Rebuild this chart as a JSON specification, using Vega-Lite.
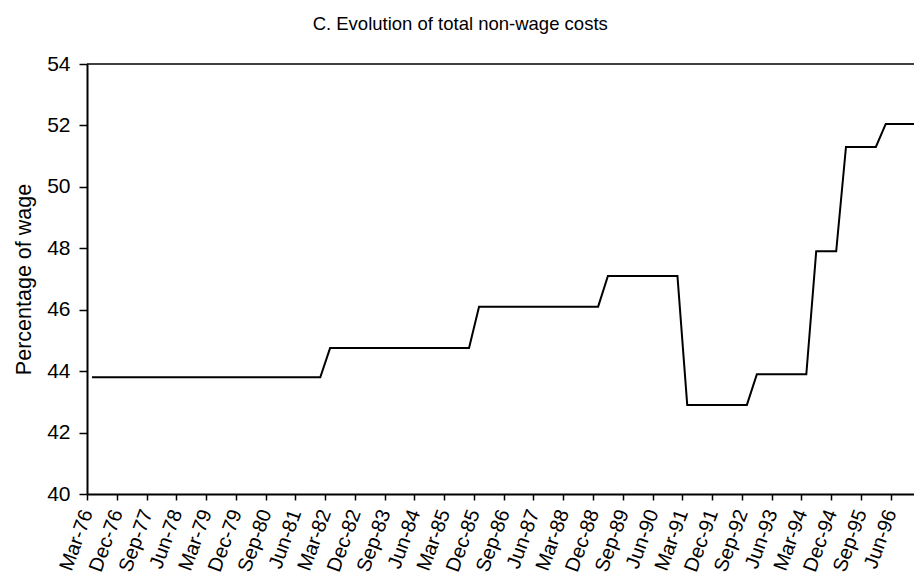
{
  "$schema": "https://vega.github.io/schema/vega-lite/v6.json",
  "width": 827,
  "height": 430,
  "autosize": {"type": "none"},
  "padding": {"left": 87, "top": 64, "right": 0, "bottom": 82},
  "background": "white",
  "title": {
    "text": "C. Evolution of total non-wage costs",
    "fontSize": 18.5,
    "font": "Liberation Sans",
    "fontWeight": "normal",
    "color": "black",
    "anchor": "middle",
    "frame": "bounds",
    "baseline": "alphabetic",
    "offset": 5,
    "dx": -4
  },
  "config": {
    "view": {"stroke": null},
    "font": "Liberation Sans"
  },
  "layer": [
    {
      "data": {"values": [{"top": 54}]},
      "mark": {"type": "rule", "color": "black", "strokeWidth": 1.5},
      "encoding": {"y": {"field": "top", "type": "quantitative"}}
    },
    {
      "data": {
        "values": [
          {"quarter": "1976-04-16", "pct": 43.8},
          {"quarter": "1976-07-16", "pct": 43.8},
          {"quarter": "1976-10-16", "pct": 43.8},
          {"quarter": "1977-01-16", "pct": 43.8},
          {"quarter": "1977-04-16", "pct": 43.8},
          {"quarter": "1977-07-16", "pct": 43.8},
          {"quarter": "1977-10-16", "pct": 43.8},
          {"quarter": "1978-01-16", "pct": 43.8},
          {"quarter": "1978-04-16", "pct": 43.8},
          {"quarter": "1978-07-16", "pct": 43.8},
          {"quarter": "1978-10-16", "pct": 43.8},
          {"quarter": "1979-01-16", "pct": 43.8},
          {"quarter": "1979-04-16", "pct": 43.8},
          {"quarter": "1979-07-16", "pct": 43.8},
          {"quarter": "1979-10-16", "pct": 43.8},
          {"quarter": "1980-01-16", "pct": 43.8},
          {"quarter": "1980-04-16", "pct": 43.8},
          {"quarter": "1980-07-16", "pct": 43.8},
          {"quarter": "1980-10-16", "pct": 43.8},
          {"quarter": "1981-01-16", "pct": 43.8},
          {"quarter": "1981-04-16", "pct": 43.8},
          {"quarter": "1981-07-16", "pct": 43.8},
          {"quarter": "1981-10-16", "pct": 43.8},
          {"quarter": "1982-01-16", "pct": 43.8},
          {"quarter": "1982-04-16", "pct": 44.75},
          {"quarter": "1982-07-16", "pct": 44.75},
          {"quarter": "1982-10-16", "pct": 44.75},
          {"quarter": "1983-01-16", "pct": 44.75},
          {"quarter": "1983-04-16", "pct": 44.75},
          {"quarter": "1983-07-16", "pct": 44.75},
          {"quarter": "1983-10-16", "pct": 44.75},
          {"quarter": "1984-01-16", "pct": 44.75},
          {"quarter": "1984-04-16", "pct": 44.75},
          {"quarter": "1984-07-16", "pct": 44.75},
          {"quarter": "1984-10-16", "pct": 44.75},
          {"quarter": "1985-01-16", "pct": 44.75},
          {"quarter": "1985-04-16", "pct": 44.75},
          {"quarter": "1985-07-16", "pct": 44.75},
          {"quarter": "1985-10-16", "pct": 44.75},
          {"quarter": "1986-01-16", "pct": 46.1},
          {"quarter": "1986-04-16", "pct": 46.1},
          {"quarter": "1986-07-16", "pct": 46.1},
          {"quarter": "1986-10-16", "pct": 46.1},
          {"quarter": "1987-01-16", "pct": 46.1},
          {"quarter": "1987-04-16", "pct": 46.1},
          {"quarter": "1987-07-16", "pct": 46.1},
          {"quarter": "1987-10-16", "pct": 46.1},
          {"quarter": "1988-01-16", "pct": 46.1},
          {"quarter": "1988-04-16", "pct": 46.1},
          {"quarter": "1988-07-16", "pct": 46.1},
          {"quarter": "1988-10-16", "pct": 46.1},
          {"quarter": "1989-01-16", "pct": 46.1},
          {"quarter": "1989-04-16", "pct": 47.1},
          {"quarter": "1989-07-16", "pct": 47.1},
          {"quarter": "1989-10-16", "pct": 47.1},
          {"quarter": "1990-01-16", "pct": 47.1},
          {"quarter": "1990-04-16", "pct": 47.1},
          {"quarter": "1990-07-16", "pct": 47.1},
          {"quarter": "1990-10-16", "pct": 47.1},
          {"quarter": "1991-01-16", "pct": 47.1},
          {"quarter": "1991-04-16", "pct": 42.9},
          {"quarter": "1991-07-16", "pct": 42.9},
          {"quarter": "1991-10-16", "pct": 42.9},
          {"quarter": "1992-01-16", "pct": 42.9},
          {"quarter": "1992-04-16", "pct": 42.9},
          {"quarter": "1992-07-16", "pct": 42.9},
          {"quarter": "1992-10-16", "pct": 42.9},
          {"quarter": "1993-01-16", "pct": 43.9},
          {"quarter": "1993-04-16", "pct": 43.9},
          {"quarter": "1993-07-16", "pct": 43.9},
          {"quarter": "1993-10-16", "pct": 43.9},
          {"quarter": "1994-01-16", "pct": 43.9},
          {"quarter": "1994-04-16", "pct": 43.9},
          {"quarter": "1994-07-16", "pct": 47.9},
          {"quarter": "1994-10-16", "pct": 47.9},
          {"quarter": "1995-01-16", "pct": 47.9},
          {"quarter": "1995-04-16", "pct": 51.3},
          {"quarter": "1995-07-16", "pct": 51.3},
          {"quarter": "1995-10-16", "pct": 51.3},
          {"quarter": "1996-01-16", "pct": 51.3},
          {"quarter": "1996-04-16", "pct": 52.05},
          {"quarter": "1996-07-16", "pct": 52.05},
          {"quarter": "1996-10-16", "pct": 52.05},
          {"quarter": "1997-01-16", "pct": 52.05}
        ]
      },
      "mark": {"type": "line", "color": "black", "strokeWidth": 2, "clip": true},
      "encoding": {
        "x": {
          "field": "quarter",
          "type": "temporal",
          "scale": {"type": "utc", "domain": [{"year": 1976, "month": 3, "date": 1, "utc": true}, {"year": 1997, "month": 1, "date": 1, "utc": true}]},
          "axis": {
            "title": null,
            "values": [
              {"year": 1976, "month": 3, "date": 1, "utc": true},
              {"year": 1976, "month": 12, "date": 1, "utc": true},
              {"year": 1977, "month": 9, "date": 1, "utc": true},
              {"year": 1978, "month": 6, "date": 1, "utc": true},
              {"year": 1979, "month": 3, "date": 1, "utc": true},
              {"year": 1979, "month": 12, "date": 1, "utc": true},
              {"year": 1980, "month": 9, "date": 1, "utc": true},
              {"year": 1981, "month": 6, "date": 1, "utc": true},
              {"year": 1982, "month": 3, "date": 1, "utc": true},
              {"year": 1982, "month": 12, "date": 1, "utc": true},
              {"year": 1983, "month": 9, "date": 1, "utc": true},
              {"year": 1984, "month": 6, "date": 1, "utc": true},
              {"year": 1985, "month": 3, "date": 1, "utc": true},
              {"year": 1985, "month": 12, "date": 1, "utc": true},
              {"year": 1986, "month": 9, "date": 1, "utc": true},
              {"year": 1987, "month": 6, "date": 1, "utc": true},
              {"year": 1988, "month": 3, "date": 1, "utc": true},
              {"year": 1988, "month": 12, "date": 1, "utc": true},
              {"year": 1989, "month": 9, "date": 1, "utc": true},
              {"year": 1990, "month": 6, "date": 1, "utc": true},
              {"year": 1991, "month": 3, "date": 1, "utc": true},
              {"year": 1991, "month": 12, "date": 1, "utc": true},
              {"year": 1992, "month": 9, "date": 1, "utc": true},
              {"year": 1993, "month": 6, "date": 1, "utc": true},
              {"year": 1994, "month": 3, "date": 1, "utc": true},
              {"year": 1994, "month": 12, "date": 1, "utc": true},
              {"year": 1995, "month": 9, "date": 1, "utc": true},
              {"year": 1996, "month": 6, "date": 1, "utc": true}
            ],
            "format": "%b-%y",
            "labelAngle": -70,
            "labelAlign": "right",
            "labelBaseline": "middle",
            "labelFontSize": 20,
            "labelColor": "black",
            "labelPadding": 10,
            "labelOverlap": false,
            "labelFlush": false,
            "tickSize": 6,
            "tickColor": "black",
            "tickWidth": 1.5,
            "domainColor": "black",
            "domainWidth": 2,
            "grid": false
          }
        },
        "y": {
          "field": "pct",
          "type": "quantitative",
          "scale": {"domain": [40, 54], "nice": false, "zero": false},
          "axis": {
            "title": "Percentage  of wage",
            "titleFontSize": 21.5,
            "titleFontWeight": "normal",
            "titleColor": "black",
            "titlePadding": 11,
            "values": [40, 42, 44, 46, 48, 50, 52, 54],
            "labelFontSize": 21,
            "labelColor": "black",
            "labelPadding": 9,
            "labelFlush": false,
            "tickSize": 8,
            "tickColor": "black",
            "tickWidth": 1.5,
            "domainColor": "black",
            "domainWidth": 2,
            "grid": false
          }
        }
      }
    }
  ]
}
